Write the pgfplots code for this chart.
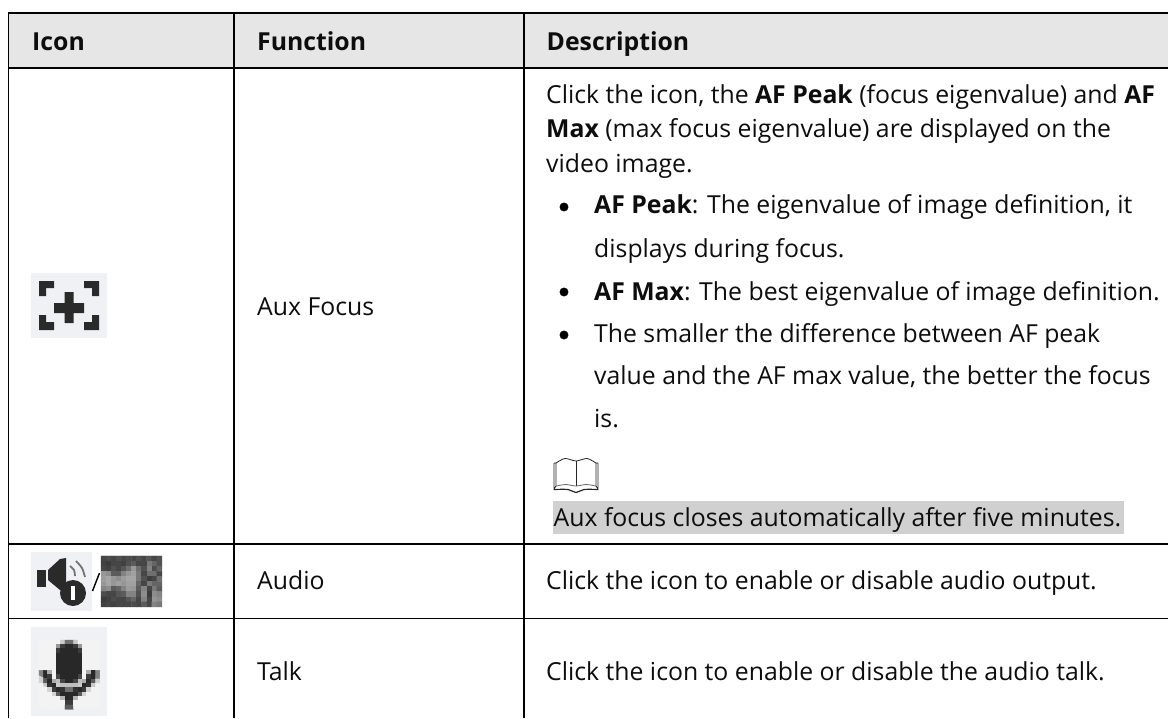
\documentclass[border=0pt]{standalone}
\usepackage{fontspec}
\setmainfont{Open Sans}
\usepackage{pgfplots}
\pgfplotsset{compat=1.18}
\definecolor{hdr}{HTML}{E6E6E6}
\definecolor{hl}{HTML}{D0D0D0}
\definecolor{ibg}{HTML}{F0F1F5}
\definecolor{ink}{HTML}{2A2A2A}
\newcommand{\T}[3]{\node[anchor=base west,inner sep=0pt,font=\fontsize{24.8}{30}\selectfont,text=black!95] at (axis cs:#1,#2) {#3};}
\begin{document}
\begin{tikzpicture}
\path[use as bounding box] (0,0) rectangle (1168pt,718pt);
\begin{axis}[
  at={(0,0)}, anchor=south west,
  scale only axis, width=1168pt, height=718pt,
  xmin=0, xmax=1168, ymin=0, ymax=718, y dir=reverse,
  hide axis, clip=true,
  colormap={g}{gray(0cm)=(0); gray(1cm)=(1)},
  point meta min=0, point meta max=255,
]
% header and highlight
\addplot[fill=hdr,draw=none] coordinates {(8.5,13)(1168,13)(1168,68)(8.5,68)} -- cycle;
\addplot[fill=hl,draw=none] coordinates {(553,501)(1124,501)(1124,534)(553,534)} -- cycle;
% rules
\addplot[black,line width=1.8pt] coordinates {(8.5,13)(1168,13)};
\addplot[black,line width=1.8pt] coordinates {(8.5,68)(1168,68)};
\addplot[black,line width=1.8pt] coordinates {(8.5,544)(1168,544)};
\addplot[black,line width=1.8pt] coordinates {(8.5,618.5)(1168,618.5)};
\addplot[black,line width=1.8pt] coordinates {(8.5,12)(8.5,718)};
\addplot[black,line width=1.8pt] coordinates {(234,12)(234,718)};
\addplot[black,line width=1.8pt] coordinates {(524,12)(524,718)};
% header text
\T{32}{50}{\textbf{Icon}}
\T{257}{50}{\textbf{Function}}
\T{546.5}{50}{\textbf{Description}}
% function column
\T{257}{315}{Aux Focus}
\T{257}{589}{Audio}
\T{257}{680}{Talk}
% description
\T{546}{103}{Click the icon, the \textbf{AF Peak} (focus eigenvalue) and \textbf{AF}}
\T{546}{137}{\textbf{Max} (max focus eigenvalue) are displayed on the}
\T{546}{172}{video image.}
\T{594}{213}{\textbf{AF Peak}: The eigenvalue of image definition, it}
\T{594}{257}{displays during focus.}
\T{594}{300}{\textbf{AF Max}: The best eigenvalue of image definition.}
\T{594}{342}{The smaller the difference between AF peak}
\T{594}{384}{value and the AF max value, the better the focus}
\T{594}{427}{is.}
\T{553.5}{526}{Aux focus closes automatically after five minutes.}
\T{546}{589}{Click the icon to enable or disable audio output.}
\T{546}{680}{Click the icon to enable or disable the audio talk.}
% bullets
\addplot[only marks,mark=*,mark size=4.2pt,black] coordinates {(564,207)(564,292)(564,335)};
% book icon
\addplot[black!85,line width=0.8pt,smooth] coordinates {(556,463)(565,458.5)(576,461)(587,458.5)(596,463)};
\addplot[black!85,line width=0.8pt] coordinates {(554,463)(556,463)(556,486)(554,489)(554,463)};
\addplot[black!85,line width=0.8pt] coordinates {(598,463)(596,463)(596,486)(598,489)(598,463)};
\addplot[black!85,line width=0.8pt] coordinates {(576,461)(576,486)};
\addplot[black!60,line width=0.8pt,smooth] coordinates {(556,486)(566,484.5)(576,486)(586,484.5)(596,486)};
\addplot[black!85,line width=1.2pt,smooth] coordinates {(554,489.5)(568,489.5)(576,492.5)(584,489.5)(598,489.5)};
% aux focus icon
\addplot[fill=ibg,draw=none] coordinates {(31,273)(107,273)(107,338)(31,338)} -- cycle;
\addplot[fill=ink,draw=none] coordinates {(39,281)(54,281)(54,288)(46,288)(46,296)(39,296)} -- cycle;
\addplot[fill=ink,draw=none] coordinates {(99,281)(84,281)(84,288)(92,288)(92,296)(99,296)} -- cycle;
\addplot[fill=ink,draw=none] coordinates {(39,330)(54,330)(54,322)(46,322)(46,315)(39,315)} -- cycle;
\addplot[fill=ink,draw=none] coordinates {(99,330)(84,330)(84,322)(92,322)(92,315)(99,315)} -- cycle;
\addplot[fill=ink,draw=none] coordinates {(64.5,292)(73.5,292)(73.5,303)(84,303)(84,313)(73.5,313)(73.5,323)(64.5,323)(64.5,313)(54,313)(54,303)(64.5,303)} -- cycle;
% speaker icon
\addplot[fill=ibg,draw=none] coordinates {(31,552)(92,552)(92,611)(31,611)} -- cycle;
\addplot[fill=ink,draw=none] coordinates {(37,570)(46,570)(46,587)(37,587)} -- cycle;
\addplot[fill=ink,draw=none] coordinates {(48,570)(60,559)(66,558)(66,592)(60,590)(48,580)} -- cycle;
\addplot[black!55,line width=1.8pt,smooth] coordinates {(70,566)(74,570)(75,576)};
\addplot[black!55,line width=1.8pt,smooth] coordinates {(76,561)(82,568)(85,577)};
\addplot[fill=ink,draw=none] coordinates {(86,593)(85,598)(82.2,602.2)(78,605)(73,606)(68,605)(63.8,602.2)(61,598)(60,593)(61,588)(63.8,583.8)(68,581)(73,580)(78,581)(82.2,583.8)(85,588)} -- cycle;
\addplot[fill=white,draw=none] coordinates {(71,586)(75,586)(75,600)(71,600)} -- cycle;
\addplot[black,line width=1.4pt] coordinates {(92.5,591)(99.5,573)};
% disabled speaker icon
\addplot[matrix plot*,mesh/cols=12,mesh/rows=10,point meta=explicit]
 table[row sep=\\,header=false,x expr={103.54+5.08*mod(\coordindex,12)},y expr={558.5+5.1*floor(\coordindex/12)},meta index=0] {
70\\75\\70\\80\\70\\75\\70\\80\\70\\85\\70\\80\\
65\\60\\70\\70\\65\\80\\90\\70\\70\\120\\100\\80\\
70\\65\\80\\70\\85\\110\\150\\110\\80\\130\\75\\100\\
150\\140\\90\\90\\130\\150\\160\\120\\70\\110\\110\\70\\
155\\165\\150\\140\\155\\165\\165\\120\\80\\60\\70\\110\\
150\\165\\150\\160\\150\\160\\160\\100\\70\\120\\100\\100\\
130\\140\\90\\100\\130\\155\\150\\90\\130\\70\\120\\90\\
75\\70\\70\\85\\90\\130\\130\\80\\140\\60\\140\\130\\
60\\65\\75\\70\\70\\85\\100\\70\\130\\70\\150\\140\\
65\\70\\65\\70\\70\\70\\75\\70\\90\\70\\130\\120\\
};
% microphone icon
\addplot[fill=ibg,draw=none] coordinates {(31,627)(107,627)(107,716)(31,716)} -- cycle;
\addplot[matrix plot*,mesh/cols=14,mesh/rows=16,point meta=explicit]
 table[row sep=\\,header=false,x expr={41.17+4.33*mod(\coordindex,14)},y expr={642.17+4.33*floor(\coordindex/14)},meta index=0] {
241\\241\\241\\241\\241\\200\\110\\110\\200\\241\\241\\241\\241\\241\\
241\\241\\241\\241\\150\\60\\40\\40\\60\\150\\241\\241\\241\\241\\
241\\241\\241\\241\\60\\40\\40\\40\\40\\60\\241\\241\\241\\241\\
241\\241\\241\\241\\40\\40\\40\\40\\40\\40\\241\\241\\241\\241\\
241\\241\\241\\241\\40\\40\\40\\40\\40\\40\\241\\241\\241\\241\\
241\\241\\241\\241\\40\\40\\40\\40\\40\\40\\241\\241\\241\\241\\
241\\241\\241\\241\\40\\40\\40\\40\\40\\40\\241\\241\\241\\241\\
130\\40\\170\\241\\40\\40\\40\\40\\40\\40\\241\\170\\40\\130\\
130\\40\\60\\241\\70\\40\\40\\40\\40\\70\\241\\60\\40\\130\\
210\\90\\40\\170\\190\\70\\40\\40\\70\\190\\170\\40\\90\\210\\
241\\200\\50\\40\\200\\190\\190\\190\\190\\200\\40\\50\\200\\241\\
241\\241\\210\\60\\40\\50\\110\\110\\50\\40\\60\\210\\241\\241\\
241\\241\\241\\210\\90\\40\\40\\40\\40\\90\\210\\241\\241\\241\\
241\\241\\241\\241\\241\\180\\40\\40\\180\\241\\241\\241\\241\\241\\
241\\241\\241\\241\\241\\241\\60\\60\\241\\241\\241\\241\\241\\241\\
241\\241\\241\\241\\241\\241\\90\\90\\241\\241\\241\\241\\241\\241\\
};
\end{axis}
\end{tikzpicture}
\end{document}
